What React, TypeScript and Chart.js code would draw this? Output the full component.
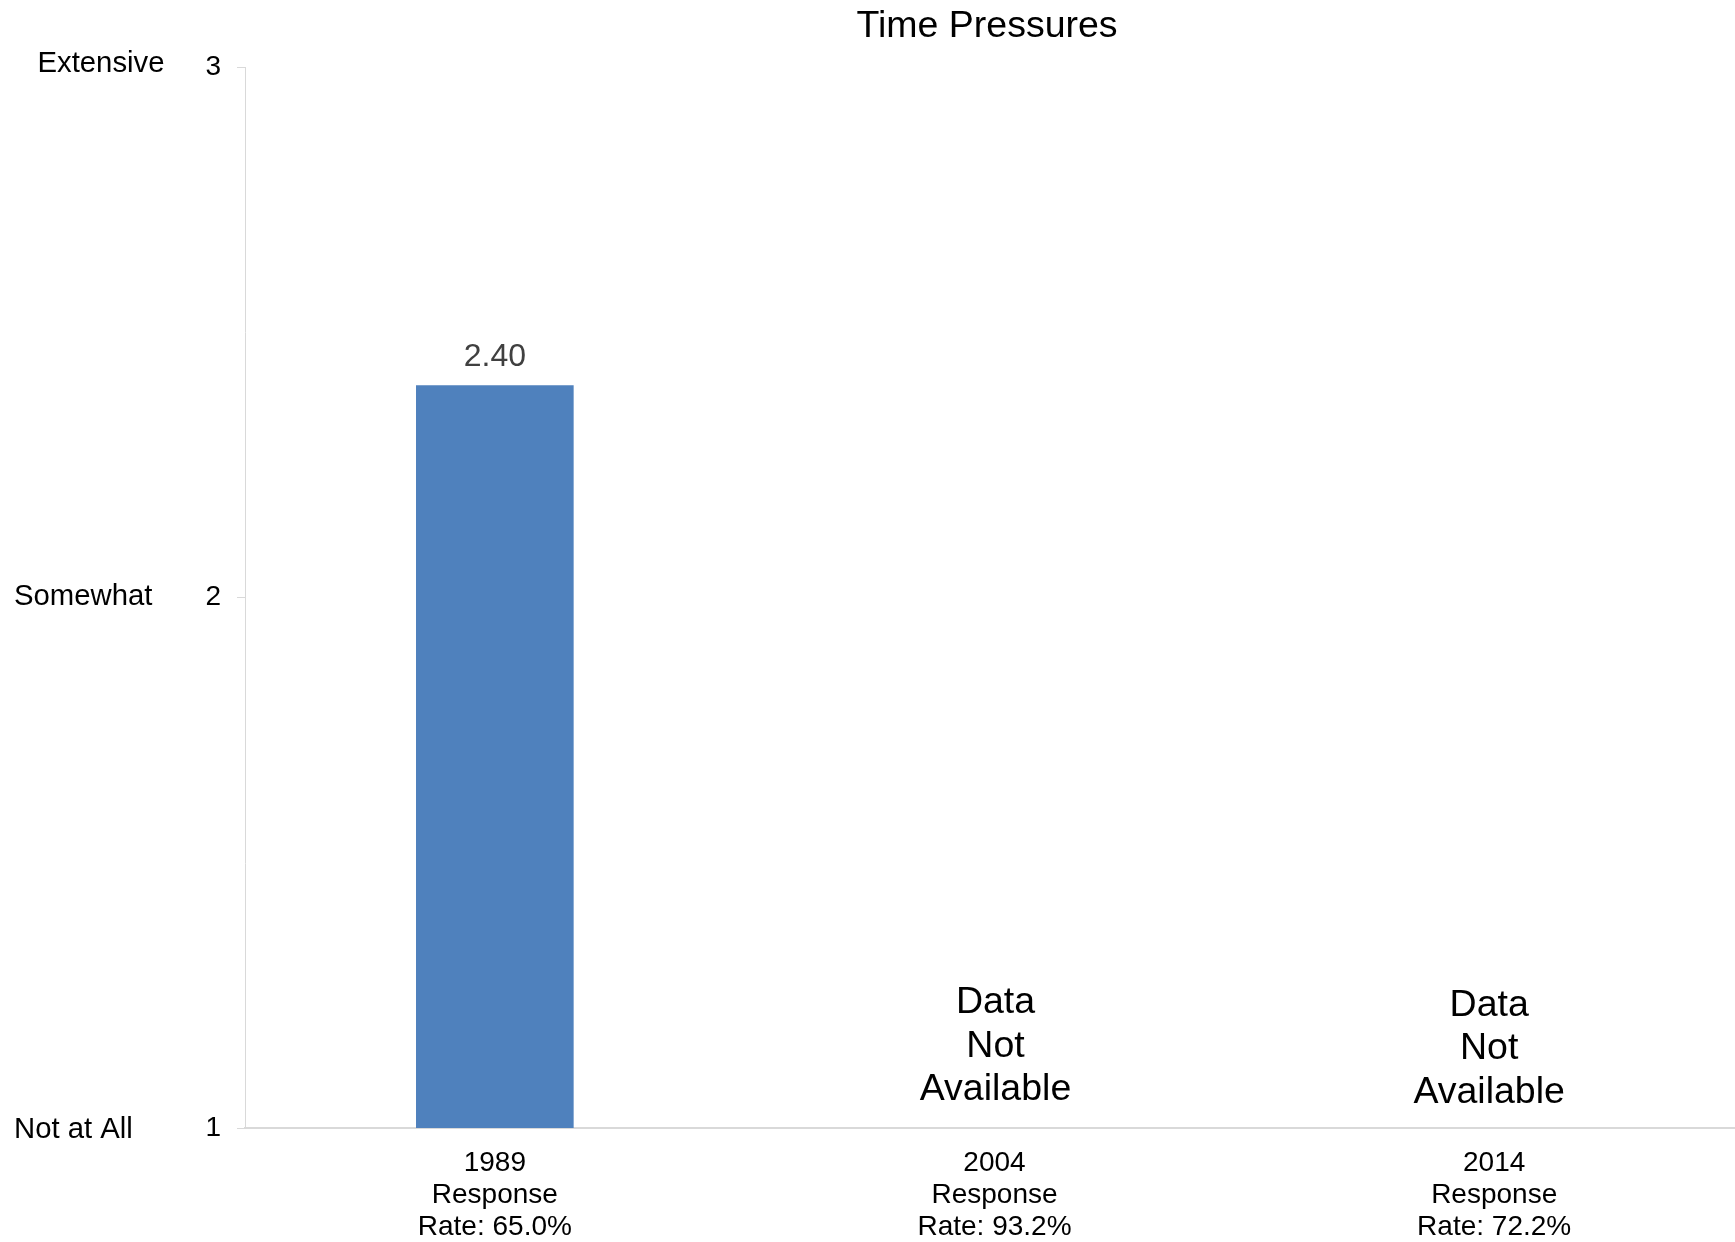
import React, { useEffect, useRef } from "react";
import { Chart, registerables } from "chart.js";

Chart.register(...registerables);

const chartTitle = "Time Pressures";
const years = ["1989", "2004", "2014"];
const responseRates = ["65.0", "93.2", "72.2"];
const meanScores: (number | null)[] = [2.4, null, null];
const yTickValues = [1, 2, 3];
const levelNames = ["Not at All", "Somewhat", "Extensive"];
const missingText = ["Data", "Not", "Available"];

const FONT = "'Liberation Sans', Arial, Helvetica, sans-serif";

const overlayPlugin = {
  id: "overlay",
  afterDraw(chart: any) {
    const ctx = chart.ctx as CanvasRenderingContext2D;
    const area = chart.chartArea;
    const xs = chart.scales.x;
    const ys = chart.scales.y;
    ctx.save();
    // title
    ctx.fillStyle = "#000";
    ctx.font = `37.5px ${FONT}`;
    ctx.textAlign = "center";
    ctx.textBaseline = "middle";
    ctx.fillText(chartTitle, 987, 27);
    // level names next to y ticks
    ctx.font = `29.3px ${FONT}`;
    ctx.textAlign = "left";
    const lx = [14, 14, 37.5];
    const dy = [2, -1, -3];
    levelNames.forEach((n, i) => {
      ctx.fillText(n, lx[i], ys.getPixelForValue(yTickValues[i]) + dy[i]);
    });
    // value labels / missing notes
    const meta = chart.getDatasetMeta(0);
    const noteDx = [0, 1, -5];
    const noteDy = [0, 0, 2.5];
    meanScores.forEach((v, i) => {
      if (v == null) {
        ctx.font = `37.5px ${FONT}`;
        ctx.fillStyle = "#000";
        ctx.textAlign = "center";
        ctx.textBaseline = "middle";
        const cx = xs.getPixelForValue(i) + noteDx[i];
        const offs = [-125, -81.5, -38];
        missingText.forEach((t, k) => ctx.fillText(t, cx, area.bottom + offs[k] + noteDy[i]));
      } else {
        const bar = meta.data[i];
        ctx.font = `32px ${FONT}`;
        ctx.fillStyle = "#404040";
        ctx.textAlign = "center";
        ctx.textBaseline = "alphabetic";
        ctx.fillText(v.toFixed(2), bar.x, bar.y - 19);
      }
    });
    ctx.restore();
  },
};

export default function App() {
  const ref = useRef<HTMLCanvasElement | null>(null);

  useEffect(() => {
    if (!ref.current) return;
    const labels = years.map((y, i) => [y, "Response", `Rate: ${responseRates[i]}%`]);
    const chart = new Chart(ref.current, {
      type: "bar",
      data: {
        labels,
        datasets: [
          {
            data: meanScores as any,
            backgroundColor: "#4F81BD",
            borderWidth: 0,
            barPercentage: 0.3155,
            categoryPercentage: 1.0,
          },
        ],
      },
      options: {
        animation: false,
        responsive: false,
        maintainAspectRatio: false,
        layout: { padding: { top: 67, left: 0, right: 0, bottom: 0 } },
        plugins: {
          legend: { display: false },
          title: { display: false },
          tooltip: { enabled: false },
        },
        scales: {
          x: {
            type: "category",
            offset: true,
            grid: { display: true, drawOnChartArea: false, drawTicks: false },
            border: { display: true, color: "#d9d9d9", width: 2 },
            ticks: {
              color: "#000",
              font: { family: FONT, size: 28, lineHeight: 32 / 28 },
              padding: 19,
              maxRotation: 0,
              minRotation: 0,
              autoSkip: false,
            },
            afterFit(scale: any) {
              scale.height = 114;
            },
          },
          y: {
            min: 1,
            max: 3,
            afterBuildTicks(scale: any) {
              scale.ticks = yTickValues.map((v) => ({ value: v }));
            },
            grid: { drawOnChartArea: false, drawTicks: true, tickLength: 8, color: "#d9d9d9" },
            border: { display: true, color: "#d9d9d9", width: 1 },
            ticks: {
              color: "#000",
              font: { family: FONT, size: 28 },
              padding: 16,
            },
            afterFit(scale: any) {
              scale.width = 245;
            },
          },
        },
      } as any,
      plugins: [overlayPlugin],
    });
    return () => chart.destroy();
  }, []);

  return (
    <div
      style={{
        position: "absolute",
        left: 0,
        top: 0,
        width: 1735,
        height: 1242,
        overflow: "hidden",
        background: "#fff",
      }}
    >
      <canvas ref={ref} width={1744} height={1242} style={{ display: "block" }} />
    </div>
  );
}
